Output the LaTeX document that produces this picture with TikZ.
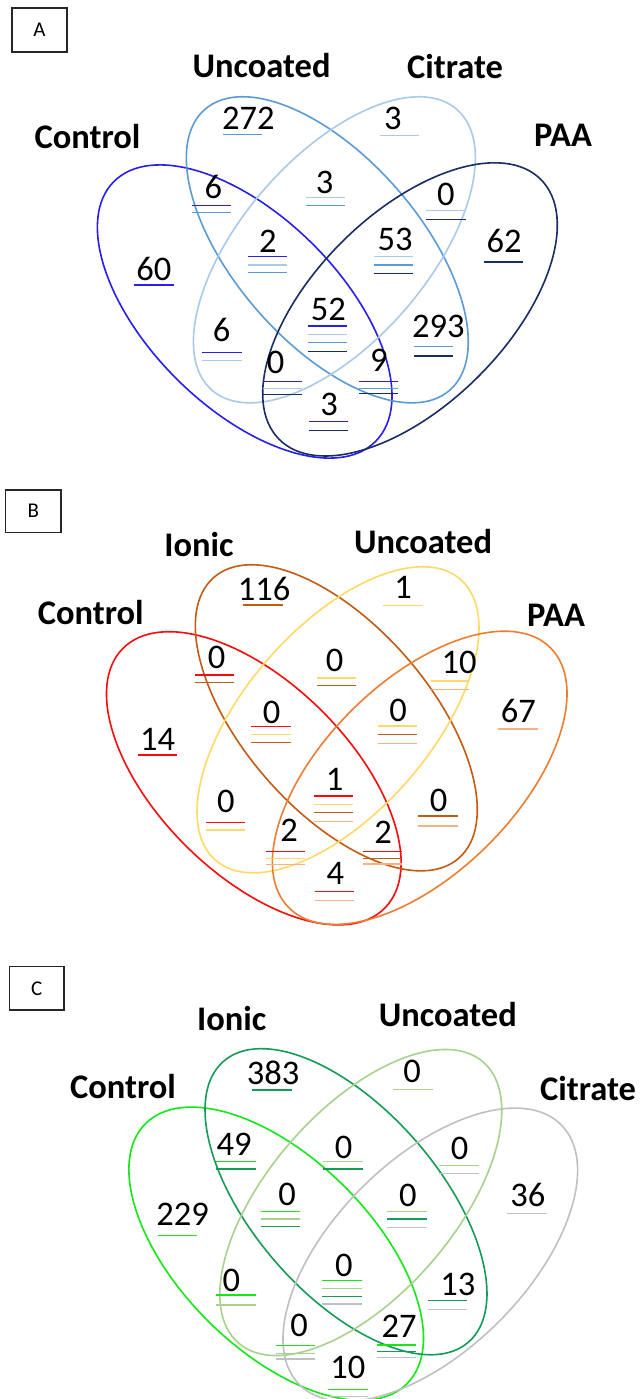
\documentclass[tikz,border=0pt]{standalone}
\usepackage{fontspec}
\setmainfont{Carlito}
\definecolor{ctlA}{RGB}{40,30,240}
\definecolor{uncA}{RGB}{91,155,213}
\definecolor{citA}{RGB}{170,202,234}
\definecolor{paaA}{RGB}{25,45,100}
\definecolor{ctlB}{RGB}{250,10,10}
\definecolor{ionB}{RGB}{197,90,17}
\definecolor{uncB}{RGB}{255,217,102}
\definecolor{paaB}{RGB}{237,125,49}
\definecolor{paaBl}{RGB}{244,177,131}
\definecolor{ctlC}{RGB}{20,232,20}
\definecolor{ionC}{RGB}{20,155,85}
\definecolor{uncC}{RGB}{169,209,142}
\definecolor{citC}{RGB}{192,192,192}
\newcommand\ellP[4]{\draw[ell,#4,rotate around={#3:(#1,#2)}] (#1,#2) ellipse[x radius=184.4pt,y radius=95.8pt];}
\newcommand\ellQ[4]{\draw[ell,#4,rotate around={#3:(#1,#2)}] (#1,#2) ellipse[x radius=186.3pt,y radius=92.6pt];}
\newcommand\myul[4]{\draw[ul,#4] (#1,#3) -- (#2,#3);}
\begin{document}
\begin{tikzpicture}[x=1pt,y=-1pt,
  num/.style={inner sep=0pt,anchor=base,font=\fontsize{34.5}{40}\selectfont},
  lab/.style={inner sep=0pt,anchor=base,font=\fontsize{34.5}{40}\selectfont\bfseries},
  ell/.style={line width=1.6pt},
  ul/.style={line width=1.5pt},
  box/.style={draw=black!85,line width=1.2pt,inner sep=0pt,font=\fontsize{21}{24}\selectfont}]
\useasboundingbox (0,0) rectangle (641,1399);
\fill[white] (0,0) rectangle (641,1399);

% ================= Panel A =================
\node[box,minimum width=55pt,minimum height=44pt] (boxA) at (39.5,30) {A};
\node[lab] (labCtlA) at (87.5,148.3) {Control};
\node[lab] (labUncA) at (261.5,77.3) {Uncoated};
\node[lab] (labCitA) at (455,79) {Citrate};
\node[lab] (labPaaA) at (563,146.7) {PAA};
\ellP{244.7}{311.5}{-44.76}{ctlA}
\ellQ{327.3}{249.8}{-48.9}{uncA}
\ellQ{334.4}{249.8}{48.9}{citA}
\ellP{410}{309.4}{44.76}{paaA}

\node[num] (a60) at (153.9,280) {60};
\myul{134.3}{174}{285}{ctlA}
\node[num] (a272) at (248.3,130) {272};
\myul{222.7}{261.7}{134.3}{uncA}
\node[num] (a3c) at (392.8,130) {3};
\myul{380}{419}{135.7}{citA}
\node[num] (a62) at (504.2,252.3) {62};
\myul{484.3}{523.3}{262}{paaA}
\node[num] (a6a) at (213.3,199) {6};
\myul{191.7}{230.7}{205.5}{ctlA}
\myul{191.7}{230.7}{212.5}{uncA}
\node[num] (a3b) at (324.7,193.3) {3};
\myul{306}{345}{197.3}{citA}
\myul{306}{345}{205.3}{uncA}
\node[num] (a0a) at (445.8,205) {0};
\myul{426}{465.7}{210.7}{citA}
\myul{426}{465.7}{219.3}{paaA}
\node[num] (a2) at (267.9,252) {2};
\myul{247.7}{287.3}{256.7}{ctlA}
\myul{247.7}{287.3}{265}{citA}
\myul{247.7}{287.3}{272.7}{uncA}
\node[num] (a53) at (395,250) {53};
\myul{374.3}{413.3}{256.7}{citA}
\myul{374.3}{413.3}{265}{uncA}
\myul{374.3}{413.3}{273.3}{paaA}
\node[num] (a6b) at (221.7,341.7) {6};
\myul{201.7}{241.7}{352.3}{ctlA}
\myul{201.7}{241.7}{360.7}{citA}
\node[num] (a52) at (328.3,320) {52};
\myul{307.7}{347.3}{326}{ctlA}
\myul{307.7}{347.3}{334.3}{citA}
\myul{307.7}{347.3}{342.7}{uncA}
\myul{307.7}{347.3}{351.7}{paaA}
\node[num] (a293) at (438.3,337.3) {293};
\myul{414.3}{453.3}{346.7}{uncA}
\myul{414.3}{453.3}{356}{paaA}
\node[num] (a0b) at (275.7,373.3) {0};
\myul{262.5}{301.7}{381.3}{ctlA}
\myul{262.5}{301.7}{388.3}{citA}
\myul{262.5}{301.7}{394.3}{paaA}
\node[num] (a9) at (378.8,371) {9};
\myul{359.2}{398.3}{381.3}{ctlA}
\myul{359.2}{398.3}{388.3}{uncA}
\myul{359.2}{398.3}{393.3}{paaA}
\node[num] (a3d) at (329.2,415) {3};
\myul{309.3}{348.3}{421.7}{ctlA}
\myul{309.3}{348.3}{430.7}{paaA}

% ================= Panel B =================
\node[box,minimum width=55.3pt,minimum height=42.3pt] (boxB) at (33.35,511.15) {B};
\node[lab] (labIonB) at (199,556.7) {Ionic};
\node[lab] (labCtlB) at (90.7,624) {Control};
\node[lab] (labUncB) at (423,553.3) {Uncoated};
\node[lab] (labPaaB) at (556,626) {PAA};
\ellP{253.8}{778.3}{-44.76}{ctlB}
\ellQ{336.3}{717.8}{-48.9}{ionB}
\ellQ{338}{719.8}{48.9}{uncB}
\ellP{419.7}{777.8}{44.76}{paaB}

\node[num] (b14) at (157.5,750) {14};
\myul{138.3}{177.3}{755}{ctlB}
\node[num] (b116) at (264.2,600) {116};
\myul{243.3}{282.7}{605}{ionB}
\node[num] (b1a) at (403,598.3) {1};
\myul{383.3}{422.7}{605.7}{uncB}
\node[num] (b67) at (518.3,722.7) {67};
\myul{498.3}{537.7}{729}{paaBl}
\node[num] (b0a) at (216.7,668.3) {0};
\myul{195}{234.3}{675}{ctlB}
\myul{195}{234.3}{682.7}{ionB}
\node[num] (b0b) at (334.5,671.7) {0};
\myul{317}{356}{678}{uncB}
\myul{317}{356}{685.7}{ionB}
\node[num] (b10) at (459.2,673.3) {10};
\myul{430.7}{469.3}{681}{uncB}
\myul{430.7}{469.3}{689.3}{paaBl}
\node[num] (b0c) at (271.7,723.3) {0};
\myul{251}{290.5}{726.3}{ctlB}
\myul{251}{290.5}{734.5}{uncB}
\myul{251}{290.5}{742.7}{ionB}
\node[num] (b0d) at (398,721.7) {0};
\myul{378.3}{417.3}{726}{uncB}
\myul{378.3}{417.3}{734.3}{ionB}
\myul{378.3}{417.3}{743.3}{paaBl}
\node[num] (b0e) at (225.8,812.7) {0};
\myul{206}{245}{822.7}{ctlB}
\myul{206}{245}{830}{uncB}
\node[num] (b1b) at (334.5,790.7) {1};
\myul{313.5}{352.5}{796}{ctlB}
\myul{313.5}{352.5}{804.3}{uncB}
\myul{313.5}{352.5}{812.7}{ionB}
\myul{313.5}{352.5}{821.7}{paaBl}
\node[num] (b0f) at (438.7,811.7) {0};
\myul{418.3}{457.7}{816}{ionB}
\myul{418.3}{457.7}{826}{paaBl}
\node[num] (b2a) at (289.2,841.7) {2};
\myul{265.7}{305}{851.7}{ctlB}
\myul{265.7}{305}{858.3}{uncB}
\myul{265.7}{305}{864.3}{paaBl}
\node[num] (b2b) at (383,843.3) {2};
\myul{362.7}{401.7}{851.7}{ctlB}
\myul{362.7}{401.7}{858.3}{ionB}
\myul{362.7}{401.7}{864}{paaBl}
\node[num] (b4) at (335.3,884) {4};
\myul{314.8}{353.9}{891.7}{ctlB}
\myul{314.8}{353.9}{900.7}{paaBl}

% ================= Panel C =================
\node[box,minimum width=54.7pt,minimum height=43.3pt] (boxC) at (36.65,988.35) {C};
\node[lab] (labIonC) at (231.7,1030) {Ionic};
\node[lab] (labUncC) at (447.8,1026) {Uncoated};
\node[lab] (labCtlC) at (123,1098.3) {Control};
\node[lab] (labCitC) at (588,1100) {Citrate};
\ellP{276.2}{1253.7}{-44.76}{ctlC}
\ellQ{346}{1201.7}{-48.9}{ionC}
\ellQ{360.8}{1202.5}{48.9}{uncC}
\ellP{430.3}{1254.7}{44.76}{citC}

\node[num] (c229) at (182.5,1225) {229};
\myul{157.7}{196.7}{1235.7}{ctlC}
\node[num] (c383) at (273.2,1084.3) {383};
\myul{252.3}{291.7}{1090}{ionC}
\node[num] (c0a) at (412,1082.3) {0};
\myul{393.3}{432.7}{1089.3}{uncC}
\node[num] (c36) at (527.8,1206.7) {36};
\myul{507.3}{546.7}{1213.3}{citC}
\node[num] (c49) at (234.2,1155) {49};
\myul{216}{255.7}{1161.7}{ctlC}
\myul{216}{255.7}{1169}{ionC}
\node[num] (c0b) at (343.7,1158.3) {0};
\myul{323.3}{363.3}{1161.7}{uncC}
\myul{323.3}{363.3}{1169}{ionC}
\node[num] (c0c) at (459.5,1159.3) {0};
\myul{439.3}{479}{1165.7}{uncC}
\myul{439.3}{479}{1173.3}{citC}
\node[num] (c0d) at (287,1205) {0};
\myul{260.7}{300}{1211.7}{ctlC}
\myul{260.7}{300}{1219}{uncC}
\myul{260.7}{300}{1226.7}{ionC}
\node[num] (c0e) at (407.8,1206.7) {0};
\myul{387.3}{426.7}{1211.7}{uncC}
\myul{387.3}{426.7}{1219}{ionC}
\myul{387.3}{426.7}{1227.3}{citC}
\node[num] (c0f) at (231.3,1291.7) {0};
\myul{216}{256}{1295}{ctlC}
\myul{216}{256}{1305}{uncC}
\node[num] (c0g) at (343.8,1276.7) {0};
\myul{322}{362}{1280.7}{ctlC}
\myul{322}{362}{1288.3}{uncC}
\myul{322}{362}{1296.7}{ionC}
\myul{322}{362}{1304}{citC}
\node[num] (c13) at (457.8,1295) {13};
\myul{428.3}{467.3}{1300.7}{ionC}
\myul{428.3}{467.3}{1309.3}{citC}
\node[num] (c0h) at (299,1336.7) {0};
\myul{276}{315}{1345.7}{ctlC}
\myul{276}{315}{1353.3}{uncC}
\myul{276}{315}{1359}{citC}
\node[num] (c27) at (399,1337.3) {27};
\myul{376.7}{416}{1345}{ctlC}
\myul{376.7}{416}{1351.7}{ionC}
\myul{376.7}{416}{1357.3}{citC}
\node[num] (c10) at (347.8,1378.3) {10};
\myul{328.3}{367.7}{1389.3}{ctlC}
\myul{328.3}{367.7}{1396.5}{citC}
\end{tikzpicture}
\end{document}
